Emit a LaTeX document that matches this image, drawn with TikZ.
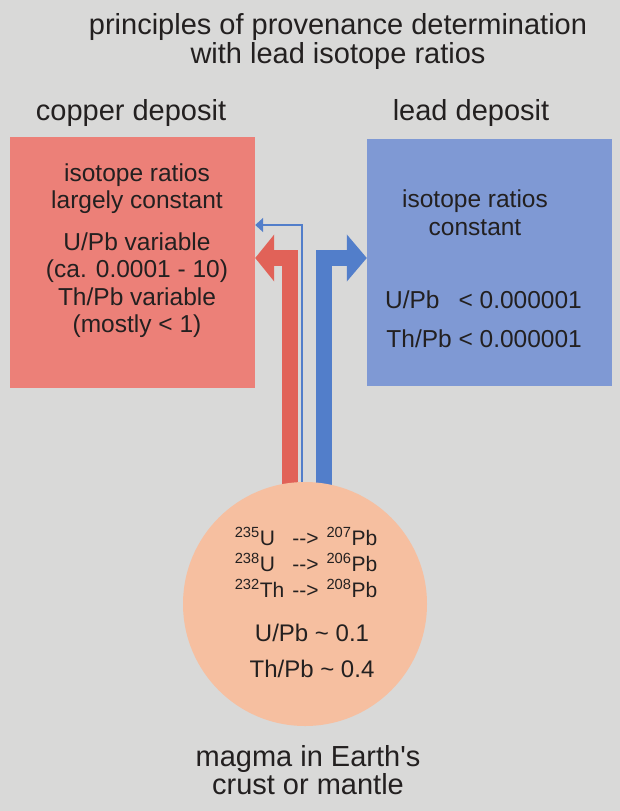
\documentclass[tikz,border=0pt]{standalone}
\usepackage{fontspec}
\setmainfont{Liberation Sans}
\usetikzlibrary{arrows.meta,backgrounds}

\definecolor{paper}{RGB}{217,217,216}
\definecolor{copperred}{RGB}{236,128,120}
\definecolor{leadblue}{RGB}{127,153,212}
\definecolor{arrowred}{RGB}{225,98,88}
\definecolor{arrowblue}{RGB}{82,126,202}
\definecolor{magmapeach}{RGB}{246,191,160}
\definecolor{ink}{RGB}{35,32,32}

\begin{document}
\begin{tikzpicture}[x=1pt,y=-1pt,
  every node/.style={text=ink,inner sep=0pt},
  big/.style={font=\fontsize{29}{29}\selectfont,align=center},
  body/.style={font=\fontsize{24.5}{27.5}\selectfont,align=center},
  deposit/.style={rectangle,minimum width=245pt},
  redflow/.style={draw=arrowred,line width=16pt,line join=miter,-{Triangle[width=46pt,length=19pt]}},
  blueflow/.style={draw=arrowblue,line width=16pt,line join=miter,-{Triangle[width=46pt,length=20pt]}},
  thinflow/.style={draw=arrowblue,line width=1.8pt,line join=miter,-{Triangle[width=14pt,length=8pt]}}]
\useasboundingbox (0,0) rectangle (620,811);
% headings
\node[big] (title) at (338,42) {principles of provenance determination\\with lead isotope ratios};
\node[big,anchor=base] (cuhead) at (131,120) {copper deposit};
\node[big,anchor=base] (pbhead) at (471,120) {lead deposit};
% the two deposits
\node[deposit,fill=copperred,minimum height=251pt] (copper) at (132.5,262.5) {};
\node[deposit,fill=leadblue,minimum height=247pt] (lead) at (489.5,262.5) {};
\node[body] (cutext) at (137,250.8) {isotope ratios\\largely constant\\[14pt]U/Pb variable\\(ca. 0.0001 - 10)\\Th/Pb variable\\(mostly < 1)};
\node[body] (pbtext) at (475,212.7) {isotope ratios\\constant};
\node[body,align=right,font=\fontsize{24.5}{39}\selectfont] (pbratio) at (483.5,319) {U/Pb\hspace{19pt}< 0.000001\\Th/Pb < 0.000001};
% source
\node[circle,fill=magmapeach,minimum size=244pt] (magma) at (305,604) {};
\node[font=\fontsize{21}{26}\selectfont] (decay) at (306,565.8) {\begin{tabular}{@{}l@{\hspace{8pt}}l@{\hspace{8pt}}l@{}}
\textsuperscript{235}U & \mbox{-}\mbox{-}> & \textsuperscript{207}Pb\\
\textsuperscript{238}U & \mbox{-}\mbox{-}> & \textsuperscript{206}Pb\\
\textsuperscript{232}Th & \mbox{-}\mbox{-}> & \textsuperscript{208}Pb
\end{tabular}};
\node[body,font=\fontsize{24}{36}\selectfont] (mratio) at (312,650.5) {U/Pb \textasciitilde{} 0.1\\Th/Pb \textasciitilde{} 0.4};
\node[big,font=\fontsize{29}{28}\selectfont] (mlabel) at (308,770.4) {magma in Earth\textquotesingle s\\crust or mantle};
% flows from the magma
\begin{scope}[on background layer]
\fill[paper] (0,0) rectangle (620,811);
\draw[redflow] ([xshift=-15pt]magma.center) |- ([yshift=4.5pt]copper.east);
\draw[thinflow] ([xshift=-3pt]magma.center) |- ([yshift=37.5pt]copper.east);
\draw[blueflow] ([xshift=19pt]magma.center) |- ([yshift=4.5pt]lead.west);
\end{scope}
\end{tikzpicture}
\end{document}
